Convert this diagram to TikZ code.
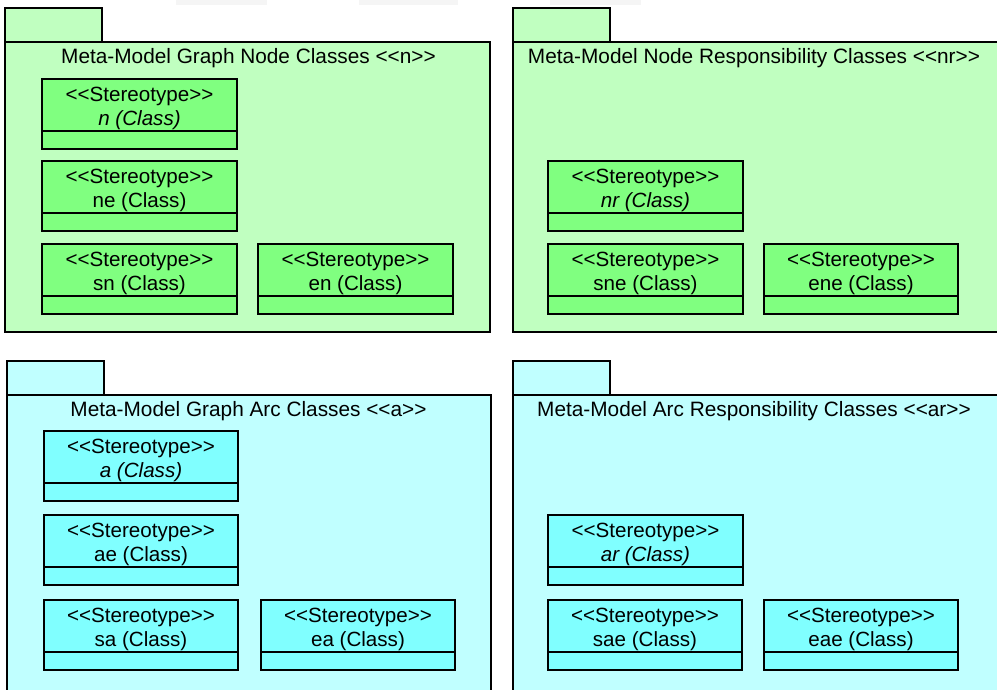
\documentclass[tikz,border=0pt]{standalone}
\usepackage{fontspec}
\setmainfont{Liberation Sans}[Ligatures=TeXOff]
\definecolor{pkggreen}{HTML}{C0FFC0}
\definecolor{clsgreen}{HTML}{80FF80}
\definecolor{pkgcyan}{HTML}{C0FFFF}
\definecolor{clscyan}{HTML}{80FFFF}
\definecolor{faintgray}{HTML}{F5F5F5}
\newcommand\umlclass[6]{%
  % #1 name, #2 x-left, #3 y-top, #4 width, #5 class label, #6 fill
  \node[clsbox, fill=#6, minimum width=#4pt] (#1) at (#2,#3) {};
  \draw[edge] ([yshift=-52pt]#1.north west) -- ([yshift=-52pt]#1.north east);
  \node[lbl] (#1-st) at ([yshift=-22.5pt]#1.north) {<<Stereotype>>};
  \node[lbl] (#1-nm) at ([yshift=-46.5pt]#1.north) {#5};
}
\begin{document}
\begin{tikzpicture}[x=1pt,y=-1pt,
  edge/.style={line width=1.4pt, draw=black},
  clsbox/.style={edge, anchor=north west, minimum height=70pt, inner sep=0pt, outer sep=0pt},
  tabbox/.style={edge, anchor=north west, minimum width=97pt, minimum height=34pt, inner sep=0pt, outer sep=0pt},
  bodybox/.style={edge, anchor=north west, inner sep=0pt, outer sep=0pt},
  lbl/.style={anchor=base, inner sep=0pt, font=\fontsize{20.6}{23}\selectfont},
  ttl/.style={anchor=base, inner sep=0pt, font=\fontsize{20.8}{23}\selectfont},
  faint/.style={fill=faintgray, draw=none}
]
\useasboundingbox (0,0) rectangle (997,689);
\fill[white] (0,0) rectangle (997,689);
% faint marks at the top
\fill[faint] (176,0) rectangle (267,5);
\fill[faint] (359,0) rectangle (458,5);
\fill[faint] (550,0) rectangle (641,5);

% ===== Top-left package =====
\node[tabbox, fill=pkggreen] (tlTab) at (5,8) {};
\node[bodybox, fill=pkggreen, minimum width=485pt, minimum height=290pt] (tlBody) at (5,42) {};
\node[ttl] (tlTitle) at (248.5,63) {Meta-Model Graph Node Classes <<n>>};
\umlclass{n}{42}{79}{195}{\itshape n (Class)}{clsgreen}
\umlclass{ne}{42}{161}{195}{ne (Class)}{clsgreen}
\umlclass{sn}{42}{244}{195}{sn (Class)}{clsgreen}
\umlclass{en}{258}{244}{195}{en (Class)}{clsgreen}

% ===== Top-right package =====
\node[tabbox, fill=pkggreen] (trTab) at (513,8) {};
\node[bodybox, fill=pkggreen, minimum width=490pt, minimum height=290pt] (trBody) at (513,42) {};
\node[ttl] (trTitle) at (754,63) {Meta-Model Node Responsibility Classes <<nr>>};
\umlclass{nr}{548}{161}{195}{\itshape nr (Class)}{clsgreen}
\umlclass{sne}{548}{244}{195}{sne (Class)}{clsgreen}
\umlclass{ene}{764}{244}{194}{ene (Class)}{clsgreen}

% ===== Bottom-left package =====
\node[tabbox, fill=pkgcyan] (blTab) at (7,361) {};
\node[bodybox, fill=pkgcyan, minimum width=484pt, minimum height=300pt] (blBody) at (7,395) {};
\node[ttl] (blTitle) at (248.5,416) {Meta-Model Graph Arc Classes <<a>>};
\umlclass{a}{44}{431}{194}{\itshape a (Class)}{clscyan}
\umlclass{ae}{44}{515}{194}{ae (Class)}{clscyan}
\umlclass{sa}{44}{600}{194}{sa (Class)}{clscyan}
\umlclass{ea}{261}{600}{194}{ea (Class)}{clscyan}

% ===== Bottom-right package =====
\node[tabbox, fill=pkgcyan] (brTab) at (513,361) {};
\node[bodybox, fill=pkgcyan, minimum width=490pt, minimum height=300pt] (brBody) at (513,395) {};
\node[ttl] (brTitle) at (754,416) {Meta-Model Arc Responsibility Classes <<ar>>};
\umlclass{ar}{548}{515}{195}{\itshape ar (Class)}{clscyan}
\umlclass{sae}{548}{600}{194}{sae (Class)}{clscyan}
\umlclass{eae}{764}{600}{194}{eae (Class)}{clscyan}
\end{tikzpicture}
\end{document}
